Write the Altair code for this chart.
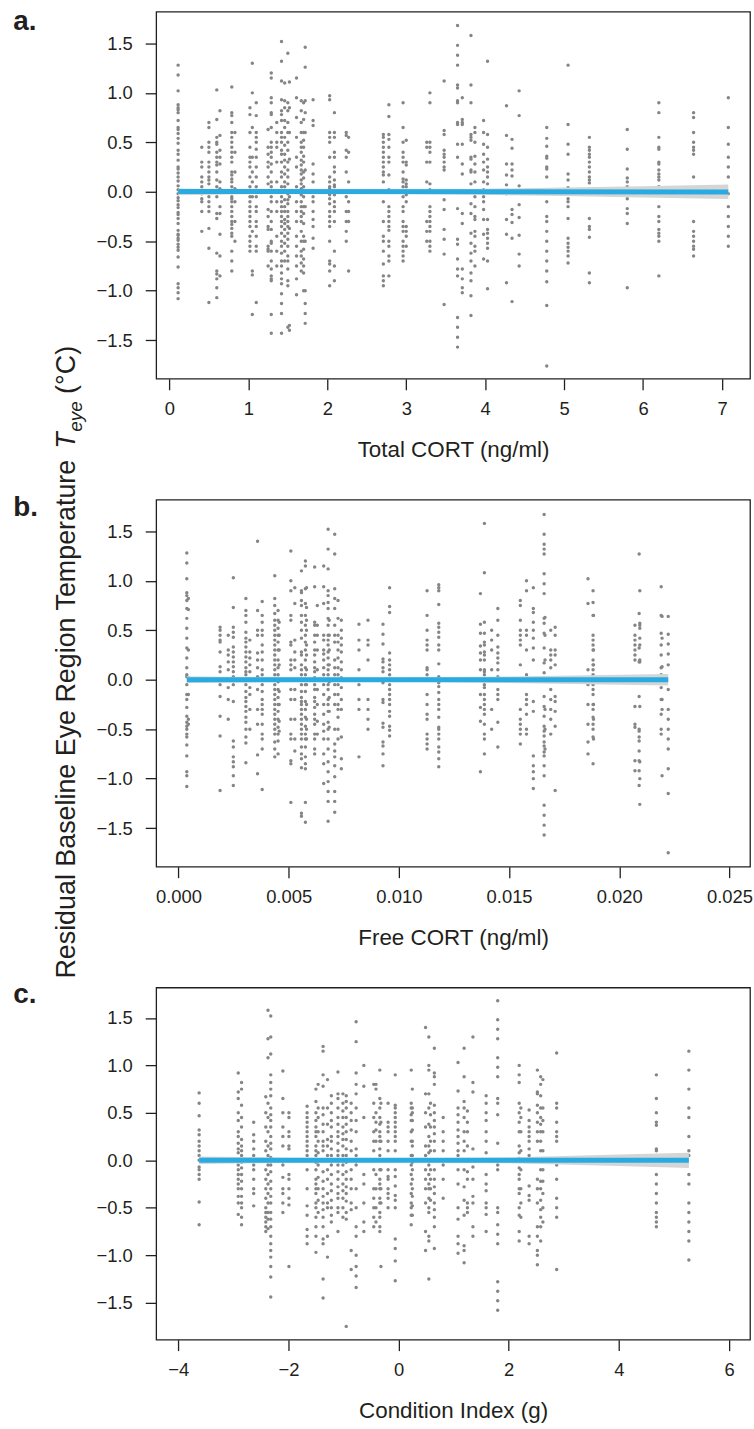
import altair as alt
import pandas as pd

# ---------------- Panel a: Total CORT ----------------
a_cols = [0.11, 0.41, 0.50, 0.60, 0.64, 0.79, 0.83, 1.02, 1.05, 1.10, 1.25, 1.29, 1.36, 1.42, 1.46,
          1.50, 1.52, 1.61, 1.67, 1.70, 1.72, 1.82, 2.03, 2.09, 2.24, 2.27,
          2.71, 2.78, 2.96, 3.00, 3.26, 3.30, 3.48, 3.65, 3.71, 3.82, 3.87, 3.98, 4.03,
          4.27, 4.34, 4.43, 4.78, 5.05, 5.32, 5.80, 6.20, 6.64, 7.08]
a_vals = [
    [1.28, 1.18, 1.02, 0.88, 0.85, 0.83, 0.80, 0.72, 0.65, 0.63, 0.59, 0.54, 0.49, 0.42, 0.38, 0.32, 0.25, 0.23,
     0.19, 0.15, 0.11, 0.06, 0.02, -0.02, -0.06, -0.09, -0.13, -0.16, -0.21, -0.23, -0.27, -0.32, -0.39, -0.43,
     -0.44, -0.47, -0.49, -0.53, -0.56, -0.59, -0.66, -0.76, -0.93, -0.97, -1.02, -1.08],
    [0.45, 0.30, 0.25, 0.15, 0.10, 0.05, -0.02, -0.07, -0.10, -0.20, -0.40],
    [0.70, 0.65, 0.50, 0.45, 0.40, 0.30, 0.25, 0.20, 0.15, 0.12, 0.08, 0.00, -0.05, -0.10, -0.15, -0.20, -0.37, -0.57, -1.12],
    [1.03, 0.73, 0.55, 0.50, 0.48, 0.40, 0.35, 0.30, 0.27, 0.20, 0.12, 0.05, 0.00, -0.05, -0.22, -0.27, -0.62, -0.80,
     -0.83, -0.88, -0.97, -1.07],
    [0.82, 0.57, 0.42, 0.35, 0.28, 0.10, 0.03, -0.15, -0.22, -0.43, -0.65, -0.85],
    [1.06, 0.80, 0.77, 0.70, 0.60, 0.55, 0.50, 0.45, 0.40, 0.35, 0.30, 0.20, 0.17, 0.13, 0.10, 0.05, -0.05, -0.07,
     -0.10, -0.15, -0.20, -0.25, -0.30, -0.33, -0.37, -0.42, -0.45, -0.60, -0.70, -0.80],
    [0.60, 0.40, 0.20, 0.03, -0.10, -0.30, -0.50],
    [0.85, 0.78, 0.60, 0.45, 0.35, 0.30, 0.25, 0.15, 0.05, 0.00, -0.05, -0.10, -0.15, -0.20, -0.25, -0.30, -0.35,
     -0.45, -0.50, -0.55, -0.60],
    [1.30, 1.00, 0.65, 0.35, 0.20, 0.10, -0.05, -0.40, -0.80, -0.84, -1.24],
    [0.90, 0.77, 0.60, 0.55, 0.50, 0.43, 0.35, 0.25, 0.15, 0.05, -0.05, -0.15, -0.20, -0.30, -0.35, -0.45, -0.55,
     -0.60, -1.12],
    [0.63, 0.45, 0.38, 0.30, 0.25, 0.15, 0.08, -0.18, -0.25, -0.35, -0.38, -0.55, -0.58, -0.60, -0.75],
    [1.20, 1.15, 0.95, 0.90, 0.80, 0.78, 0.65, 0.50, 0.45, 0.40, 0.35, 0.28, 0.20, 0.10, 0.05, -0.05, -0.10, -0.20,
     -0.30, -0.38, -0.50, -0.52, -0.60, -0.70, -0.78, -0.85, -0.88, -0.90, -1.24, -1.43],
    [0.70, 0.60, 0.50, 0.45, 0.30, 0.10, -0.10, -0.20, -0.45, -0.60, -0.75],
    [1.52, 1.32, 1.12, 0.93, 0.82, 0.78, 0.72, 0.60, 0.55, 0.50, 0.42, 0.38, 0.30, 0.20, 0.15, 0.05, 0.00, -0.05,
     -0.10, -0.15, -0.20, -0.25, -0.30, -0.35, -0.42, -0.50, -0.55, -0.62, -0.70, -0.75, -0.82, -0.88, -0.93,
     -1.03, -1.13, -1.23, -1.43],
    [1.10, 0.92, 0.85, 0.72, 0.65, 0.55, 0.47, 0.38, 0.32, 0.25, 0.18, 0.10, 0.05, -0.08, -0.15, -0.20, -0.28,
     -0.32, -0.38, -0.45, -0.52, -0.60, -0.70],
    [1.40, 0.90, 0.82, 0.70, 0.60, 0.50, 0.42, 0.30, 0.22, 0.15, 0.08, -0.02, -0.08, -0.12, -0.20, -0.25, -0.30,
     -0.35, -0.42, -0.48, -0.55, -0.65, -0.70, -0.78, -0.90, -0.95, -1.37],
    [1.11, 0.85, 0.60, 0.33, -0.05, -0.37, -1.35, -1.40],
    [1.15, 0.95, 0.75, 0.55, 0.35, 0.25, 0.05, -0.10, -0.20, -0.30, -0.45, -0.55, -0.65, -0.75, -0.88, -1.04],
    [0.92, 0.82, 0.70, 0.60, 0.50, 0.45, 0.40, 0.32, 0.27, 0.22, 0.18, 0.12, 0.08, 0.03, -0.03, -0.10, -0.15,
     -0.20, -0.25, -0.30, -0.40, -0.50, -0.60, -0.65, -0.72, -0.80],
    [0.90, 0.73, 0.60, 0.52, 0.45, 0.36, 0.30, 0.20, 0.14, 0.05, -0.05, -0.15, -0.22, -0.32, -0.45, -0.50, -0.58,
     -0.68, -0.75, -0.82, -1.00],
    [1.46, 1.26, 0.92, 0.80, 0.60, 0.22, -0.15, -0.50, -1.00, -1.13, -1.23, -1.33],
    [0.93, 0.72, 0.67, 0.28, 0.18, 0.10, 0.00, -0.05, -0.10, -0.20, -0.28, -0.35, -0.47, -0.57],
    [0.97, 0.93, 0.60, 0.55, 0.50, 0.35, 0.15, 0.10, 0.05, 0.03, -0.03, -0.07, -0.12, -0.20, -0.25, -0.30, -0.35,
     -0.50, -0.70, -0.73, -0.80, -0.95],
    [0.80, 0.60, 0.55, 0.40, 0.35, 0.25, 0.20, 0.12, 0.07, 0.05, 0.00, -0.03, -0.10, -0.15, -0.20, -0.30, -0.60,
     -0.75, -0.90],
    [0.60, 0.57, 0.42, 0.35, 0.20, -0.05, -0.20, -0.30, -0.40, -0.50],
    [0.55, 0.40, 0.10, -0.10, -0.20, -0.30, -0.80],
    [0.58, 0.55, 0.50, 0.45, 0.40, 0.35, 0.30, 0.25, 0.20, 0.17, 0.10, 0.00, -0.10, -0.30, -0.45, -0.50, -0.60,
     -0.73, -0.85, -0.90, -0.95],
    [0.88, 0.76, 0.58, 0.53, 0.45, 0.35, 0.30, 0.17, 0.02, -0.15, -0.20, -0.25, -0.30, -0.35, -0.39, -0.50, -0.55,
     -0.65, -0.70, -0.85],
    [0.90, 0.65, 0.50, 0.40, 0.35, 0.30, 0.20, 0.13, 0.10, 0.05, 0.00, -0.05, -0.15, -0.20, -0.30, -0.35, -0.40,
     -0.50, -0.55, -0.60, -0.65, -0.70],
    [0.52, 0.30, 0.27, 0.12, 0.08, 0.05, -0.03, -0.10, -0.35, -0.40, -0.45, -0.55],
    [0.50, 0.45, 0.30, 0.10, -0.30, -0.40, -0.50],
    [1.00, 0.90, 0.50, 0.45, 0.40, 0.30, 0.08, 0.02, -0.15, -0.20, -0.25, -0.30, -0.35, -0.40, -0.50, -0.55, -0.60],
    [1.12, 0.62, 0.58, 0.42, 0.38, 0.35, 0.30, 0.25, 0.22, 0.00, -0.08, -0.18, -0.38, -0.48, -0.63, -1.14],
    [1.68, 1.48, 1.38, 1.28, 1.08, 1.05, 0.92, 0.90, 0.70, 0.68, 0.48, 0.35, 0.00, -0.17, -0.48, -0.53, -0.68,
     -0.78, -0.85, -1.27, -1.37, -1.47, -1.57],
    [0.95, 0.73, 0.70, 0.68, 0.48, 0.28, 0.18, -0.22, -0.32, -0.78, -0.88, -0.97, -1.02],
    [1.58, 1.08, 0.90, 0.58, 0.55, 0.52, 0.35, 0.33, 0.22, 0.20, 0.08, -0.12, -0.22, -0.42, -0.52, -0.62, -0.70,
     -0.82, -0.90, -1.05, -1.25],
    [0.65, 0.60, 0.50, 0.36, 0.28, 0.20, 0.10, -0.05, -0.15, -0.25, -0.28, -0.40, -0.45, -0.55, -0.60, -0.75],
    [0.72, 0.60, 0.48, 0.38, 0.30, 0.22, 0.10, 0.02, -0.05, -0.10, -0.18, -0.28, -0.43, -0.68],
    [1.32, 0.58, 0.45, 0.33, 0.25, 0.20, 0.15, 0.08, -0.28, -0.38, -0.42, -0.47, -0.52, -0.57, -0.70, -0.98],
    [0.87, 0.57, 0.28, 0.17, 0.07, -0.02, -0.28, -0.43, -0.92],
    [0.53, 0.44, 0.28, 0.22, 0.16, -0.18, -0.23, -0.31, -0.47, -1.11],
    [1.02, 0.77, 0.06, -0.13, -0.26, -0.44, -0.63, -0.75],
    [0.65, 0.54, 0.46, 0.36, 0.34, 0.25, 0.23, 0.15, -0.10, -0.25, -0.30, -0.40, -0.50, -0.60, -0.70, -0.80,
     -0.91, -1.15, -1.76],
    [1.28, 0.68, 0.48, 0.38, 0.18, 0.12, 0.04, -0.07, -0.10, -0.15, -0.27, -0.47, -0.52, -0.56, -0.60, -0.65, -0.72],
    [0.55, 0.45, 0.42, 0.38, 0.35, 0.30, 0.25, 0.20, 0.15, 0.12, 0.09, -0.27, -0.35, -0.38, -0.46, -0.82, -0.92],
    [0.63, 0.43, 0.23, 0.14, 0.10, 0.05, -0.07, -0.17, -0.22, -0.32, -0.97],
    [0.90, 0.80, 0.55, 0.45, 0.43, 0.30, 0.28, 0.22, 0.18, 0.15, 0.12, 0.05, -0.15, -0.25, -0.30, -0.38, -0.42,
     -0.45, -0.50, -0.85],
    [0.80, 0.75, 0.60, 0.50, 0.45, 0.42, 0.38, 0.15, -0.30, -0.40, -0.45, -0.50, -0.55, -0.58, -0.65],
    [0.95, 0.65, 0.48, 0.35, 0.25, 0.15, -0.02, -0.15, -0.25, -0.35, -0.45, -0.55],
]
a_fit_x = [0.11, 7.08]
a_fit_y = [0.003, -0.003]
a_band_x = [0.11, 1.0, 2.0, 3.0, 4.0, 5.0, 6.0, 7.08]
a_band_half = [0.034, 0.024, 0.020, 0.022, 0.031, 0.043, 0.057, 0.073]

# ---------------- Panel b: Free CORT ----------------
b_cols = [0.00038, 0.00045, 0.00189, 0.00226, 0.00249, 0.00306, 0.00324, 0.00359, 0.00380, 0.00437, 0.00452,
          0.00457, 0.00510, 0.00528, 0.00558, 0.00576, 0.00581, 0.00618, 0.00630, 0.00659, 0.00679, 0.00684,
          0.00709, 0.00724, 0.00739, 0.00819, 0.00860, 0.00928, 0.00958, 0.01128, 0.01181, 0.01370, 0.01388,
          0.01421, 0.01449, 0.01551, 0.01579, 0.01610, 0.01659, 0.01663, 0.01689, 0.01709, 0.01858, 0.01881,
          0.01883, 0.02071, 0.02090, 0.02093, 0.02190, 0.02194, 0.02222]
b_vals = [
    [1.28, 1.18, 1.02, 0.88, 0.85, 0.80, 0.72, 0.62, 0.52, 0.42, 0.32, 0.22, 0.12, 0.05, 0.03, -0.05, -0.15,
     -0.20, -0.28, -0.37, -0.43, -0.47, -0.50, -0.55, -0.58, -0.66, -0.77, -0.93, -0.97, -1.08],
    [0.82, 0.71, 0.30, 0.02, -0.15, -0.40, -0.45],
    [0.53, 0.50, 0.45, 0.40, 0.38, 0.28, 0.13, 0.08, -0.05, -0.17, -0.37, -0.57, -1.12],
    [0.45, 0.30, 0.25, 0.18, 0.10, 0.00, -0.08, -0.20, -0.40],
    [1.03, 0.73, 0.53, 0.48, 0.43, 0.33, 0.28, 0.23, 0.18, 0.13, 0.08, 0.03, -0.05, -0.22, -0.62, -0.68, -0.78,
     -0.83, -0.88, -0.97, -1.07],
    [0.82, 0.70, 0.65, 0.58, 0.48, 0.42, 0.38, 0.33, 0.28, 0.23, 0.18, 0.12, 0.08, 0.05, 0.00, -0.05, -0.12,
     -0.18, -0.22, -0.27, -0.32, -0.38, -0.43, -0.50, -0.58, -0.64, -0.84],
    [0.40, 0.28, 0.22, 0.15, 0.08, 0.00, -0.08, -0.15, -0.30, -0.50],
    [1.40, 0.70, 0.50, 0.45, 0.27, 0.20, 0.12, 0.03, -0.10, -0.30, -0.45, -0.76, -0.95],
    [0.79, 0.65, 0.58, 0.50, 0.45, 0.35, 0.28, 0.20, 0.10, 0.05, -0.05, -0.12, -0.20, -0.25, -0.30, -0.35,
     -0.45, -0.55, -0.60, -0.70, -1.11],
    [1.05, 0.82, 0.75, 0.67, 0.60, 0.55, 0.50, 0.45, 0.40, 0.35, 0.30, 0.25, 0.20, 0.15, 0.10, 0.05, 0.00, -0.05,
     -0.10, -0.15, -0.20, -0.25, -0.30, -0.35, -0.40, -0.45, -0.50, -0.55, -0.63, -0.70, -0.78],
    [0.70, 0.60, 0.52, 0.45, 0.38, 0.30, 0.20, 0.12, 0.05, -0.02, -0.10, -0.18, -0.25, -0.32, -0.40, -0.48,
     -0.55, -0.62, -0.75],
    [0.58, 0.45, 0.30, 0.15, 0.00, -0.12, -0.25, -0.42, -0.52],
    [1.30, 1.00, 0.90, 0.65, 0.60, 0.38, 0.35, 0.20, 0.15, 0.10, -0.10, -0.20, -0.40, -0.55, -0.60, -0.82, -0.85, -1.24],
    [0.93, 0.77, 0.40, 0.28, 0.20, 0.12, -0.10, -0.20, -0.40, -0.60, -0.72],
    [1.10, 0.90, 0.88, 0.80, 0.75, 0.65, 0.58, 0.50, 0.42, 0.28, 0.25, 0.15, 0.10, 0.05, 0.00, -0.05, -0.12,
     -0.18, -0.22, -0.25, -0.30, -0.35, -0.40, -0.45, -0.50, -0.55, -0.60, -0.68, -0.75, -0.80, -0.89, -1.35, -1.38],
    [1.20, 1.15, 0.92, 0.77, 0.65, 0.55, 0.45, 0.38, 0.30, 0.20, 0.12, 0.05, -0.05, -0.12, -0.22, -0.30, -0.38,
     -0.47, -0.55, -0.60, -0.68, -0.78, -0.85, -0.90, -1.24, -1.44],
    [0.93, 0.73, 0.60, 0.50, 0.35, 0.25, 0.10, -0.05, -0.25, -0.40, -0.50, -0.60],
    [1.14, 0.94, 0.58, 0.55, 0.45, 0.38, 0.30, 0.25, 0.18, 0.12, 0.08, 0.02, -0.05, -0.10, -0.18, -0.22, -0.28,
     -0.35, -0.40, -0.45, -0.55, -0.60, -0.70, -0.75],
    [0.75, 0.55, 0.45, 0.30, 0.10, -0.10, -0.25, -0.42, -0.55],
    [1.15, 0.94, 0.77, 0.45, 0.40, 0.30, 0.26, 0.20, 0.12, 0.05, -0.05, -0.15, -0.25, -0.35, -0.45, -0.52,
     -0.60, -0.75, -0.85, -1.05],
    [1.52, 1.32, 1.12, 0.90, 0.85, 0.78, 0.72, 0.62, 0.55, 0.45, 0.40, 0.35, 0.28, 0.22, 0.15, 0.10, 0.05, 0.00,
     -0.05, -0.10, -0.20, -0.25, -0.32, -0.43, -0.50, -0.60, -0.70, -0.83, -0.93, -1.03, -1.13, -1.23, -1.43],
    [0.60, 0.45, 0.30, 0.15, -0.02, -0.18, -0.32, -0.48],
    [1.47, 1.27, 0.92, 0.82, 0.72, 0.55, 0.45, 0.38, 0.20, 0.12, 0.05, -0.05, -0.15, -0.25, -0.50, -0.65, -0.72,
     -0.78, -0.87, -0.98, -1.13, -1.23, -1.34],
    [0.80, 0.62, 0.45, 0.38, 0.30, 0.22, 0.12, 0.05, -0.05, -0.15, -0.25, -0.30, -0.38, -0.50, -0.60],
    [0.60, 0.50, 0.42, 0.35, 0.28, 0.18, 0.10, 0.02, -0.08, -0.20, -0.30, -0.58, -0.80, -0.90],
    [0.56, 0.40, 0.30, 0.10, -0.05, -0.20, -0.30, -0.78],
    [0.60, 0.40, 0.35, 0.20, -0.20, -0.30, -0.40, -0.50],
    [0.56, 0.46, 0.36, 0.21, 0.18, 0.12, 0.08, -0.03, -0.20, -0.23, -0.44, -0.48, -0.63, -0.67, -0.75, -0.87],
    [0.93, 0.74, 0.68, 0.27, 0.20, 0.15, 0.10, 0.05, 0.00, -0.05, -0.10, -0.15, -0.20, -0.25, -0.32, -0.37,
     -0.47, -0.51, -0.57],
    [0.90, 0.65, 0.50, 0.40, 0.35, 0.30, 0.12, 0.10, 0.05, -0.15, -0.25, -0.35, -0.40, -0.55, -0.60, -0.65, -0.70],
    [0.96, 0.93, 0.90, 0.76, 0.57, 0.53, 0.48, 0.43, 0.35, 0.30, 0.16, 0.03, -0.03, -0.07, -0.13, -0.20, -0.25,
     -0.30, -0.38, -0.48, -0.50, -0.55, -0.60, -0.68, -0.73, -0.80, -0.88],
    [0.87, 0.56, 0.47, 0.34, 0.27, 0.20, 0.10, -0.15, -0.28, -0.42, -0.93],
    [1.58, 1.08, 0.58, 0.47, 0.38, 0.35, 0.28, 0.25, 0.20, 0.10, 0.08, 0.05, -0.05, -0.08, -0.15, -0.20, -0.25,
     -0.30, -0.35, -0.45, -0.55, -0.60, -0.75],
    [0.50, 0.40, 0.30, 0.10, -0.30, -0.50],
    [0.72, 0.60, 0.45, 0.33, 0.27, 0.22, 0.17, 0.10, 0.03, -0.10, -0.15, -0.20, -0.43, -0.68],
    [0.80, 0.75, 0.60, 0.50, 0.45, 0.40, 0.35, 0.15, -0.30, -0.40, -0.45, -0.50, -0.55, -0.65],
    [1.00, 0.90, 0.50, 0.45, 0.30, 0.05, -0.15, -0.20, -0.25, -0.35, -0.50, -0.55],
    [0.93, 0.72, 0.68, 0.58, 0.50, 0.42, 0.32, 0.20, -0.22, -0.32, -0.77, -0.87, -0.93, -1.00, -1.10],
    [1.67, 1.47, 1.37, 1.32, 1.27, 1.07, 0.97, 0.87, 0.62, 0.57, 0.47, 0.32, 0.17, 0.07, 0.02, -0.17, -0.27,
     -0.37, -0.47, -0.52, -0.57, -0.63, -0.67, -0.73, -0.77, -0.87, -0.97, -1.27, -1.37, -1.47, -1.57],
    [0.63, 0.45, 0.20, 0.00, -0.30, -0.50, -0.70],
    [0.50, 0.30, 0.25, 0.20, 0.12, -0.10, -0.20, -0.30, -0.40, -0.55],
    [0.53, 0.45, 0.30, 0.25, 0.15, -0.17, -0.22, -0.32, -0.47, -1.12],
    [1.02, 0.77, 0.10, -0.05, -0.25, -0.45, -0.63, -0.75],
    [0.90, 0.78, 0.65, 0.45, 0.40, 0.35, 0.30, 0.20, 0.15, 0.10, 0.05, -0.05, -0.10, -0.15, -0.25, -0.30, -0.38,
     -0.45, -0.50, -0.58, -0.85],
    [0.65, 0.30, 0.15, -0.25, -0.40, -0.60],
    [0.55, 0.45, 0.40, 0.35, 0.30, 0.25, 0.20, -0.27, -0.45, -0.48, -0.82, -0.92],
    [1.27, 0.67, 0.32, 0.18, -0.17, -0.50, -0.52, -0.58, -0.62, -0.72, -0.82, -0.92, -1.07],
    [0.90, 0.57, 0.55, 0.52, 0.42, 0.35, 0.20, 0.18, -0.27, -0.83, -1.00, -1.26],
    [0.94, 0.65, 0.47, 0.35, 0.25, 0.12, 0.05, -0.08, -0.20, -0.35, -0.50, -0.55],
    [0.64, 0.42, 0.13, -0.20, -0.30, -0.97],
    [0.64, 0.46, 0.36, 0.26, 0.15, -0.10, -0.30, -0.40, -0.50, -0.60, -0.70, -0.90, -1.15, -1.75],
]
b_fit_x = [0.00038, 0.02222]
b_fit_y = [0.0, 0.0]
b_band_x = [0.00038, 0.005, 0.010, 0.015, 0.020, 0.02222]
b_band_half = [0.034, 0.021, 0.021, 0.033, 0.050, 0.058]

# ---------------- Panel c: Condition Index ----------------
c_cols = [-3.62, -2.91, -2.85, -2.63, -2.41, -2.37, -2.32, -2.10, -1.99, -1.66, -1.50, -1.46, -1.37, -1.29,
          -1.22, -1.10, -1.01, -0.95, -0.86, -0.77, -0.63, -0.45, -0.41, -0.34, -0.32, -0.19, -0.06, 0.23, 0.25,
          0.49, 0.55, 0.58, 0.65, 0.81, 1.08, 1.19, 1.25, 1.35, 1.59, 1.80, 2.19, 2.22, 2.37, 2.52, 2.58,
          2.62, 2.87, 4.68, 5.27]
c_vals = [
    [0.71, 0.60, 0.47, 0.32, 0.27, 0.20, 0.15, 0.10, 0.05, 0.00, -0.07, -0.10, -0.15, -0.20, -0.44, -0.68],
    [0.92, 0.72, 0.65, 0.50, 0.42, 0.30, 0.25, 0.18, 0.12, 0.08, 0.00, -0.05, -0.10, -0.15, -0.20, -0.25,
     -0.30, -0.38, -0.45, -0.57],
    [0.82, 0.75, 0.58, 0.45, 0.35, 0.22, 0.15, 0.10, 0.05, -0.02, -0.08, -0.15, -0.22, -0.30, -0.38, -0.45,
     -0.50, -0.60, -0.68],
    [0.40, 0.27, 0.20, 0.12, 0.05, -0.05, -0.10, -0.20, -0.30, -0.35, -0.48],
    [0.67, 0.50, 0.35, 0.20, 0.10, 0.00, -0.10, -0.20, -0.30, -0.40, -0.50, -0.55, -0.60, -0.65, -0.70, -0.75],
    [1.58, 1.28, 1.08, 0.60, 0.45, 0.30, 0.15, 0.05, -0.05, -0.15, -0.25, -0.35, -0.45, -0.55, -0.62, -0.72],
    [1.52, 1.30, 1.12, 0.90, 0.82, 0.75, 0.68, 0.55, 0.48, 0.42, 0.35, 0.25, 0.18, 0.12, 0.03, -0.05, -0.12,
     -0.22, -0.30, -0.38, -0.45, -0.55, -0.62, -0.70, -0.80, -0.88, -0.95, -1.02, -1.12, -1.23, -1.44],
    [0.94, 0.65, 0.50, 0.35, 0.25, 0.15, -0.05, -0.18, -0.30, -0.35, -0.45, -0.55],
    [0.50, 0.45, 0.30, 0.25, 0.15, 0.12, -0.15, -0.20, -0.30, -0.40, -0.47, -1.12],
    [0.57, 0.50, 0.45, 0.40, 0.35, 0.30, 0.25, 0.20, 0.15, 0.10, 0.05, -0.10, -0.30, -0.48, -0.58, -0.73, -0.80, -0.88],
    [0.75, 0.62, 0.50, 0.42, 0.35, 0.30, 0.25, 0.15, 0.10, 0.05, -0.02, -0.10, -0.20, -0.25, -0.30, -0.35,
     -0.45, -0.50, -0.60, -0.70, -0.80, -0.97],
    [0.80, 0.55, 0.45, 0.30, 0.20, 0.08, -0.05, -0.18, -0.30, -0.42, -0.55],
    [1.20, 1.15, 0.90, 0.78, 0.55, 0.48, 0.38, 0.30, 0.20, 0.15, 0.10, 0.00, -0.12, -0.22, -0.30, -0.38, -0.45,
     -0.52, -0.60, -0.70, -0.83, -0.88, -1.25, -1.45],
    [0.85, 0.55, 0.38, 0.22, 0.15, 0.05, -0.10, -0.20, -0.35, -0.45, -0.50, -0.80, -1.02],
    [0.68, 0.60, 0.50, 0.42, 0.35, 0.25, 0.20, 0.12, 0.05, -0.05, -0.15, -0.25, -0.32, -0.42, -0.50, -0.58, -0.65],
    [0.93, 0.70, 0.65, 0.55, 0.45, 0.38, 0.30, 0.25, 0.18, 0.10, 0.05, -0.05, -0.12, -0.20, -0.28, -0.35,
     -0.40, -0.50, -0.55, -0.75],
    [0.70, 0.60, 0.52, 0.45, 0.35, 0.28, 0.22, 0.15, 0.05, -0.05, -0.15, -0.25, -0.32, -0.40, -0.50, -0.60],
    [0.68, 0.62, 0.55, 0.45, 0.38, 0.30, 0.22, 0.12, 0.05, -0.02, -0.12, -0.20, -0.28, -0.35, -0.43, -0.55,
     -0.62, -1.75],
    [0.60, 0.50, 0.42, 0.32, 0.20, 0.10, 0.00, -0.10, -0.20, -0.30, -0.45, -0.52, -0.95, -1.15],
    [1.46, 1.25, 0.92, 0.80, 0.70, 0.55, 0.42, 0.30, 0.12, 0.05, -0.05, -0.30, -0.50, -0.70, -0.80, -1.00,
     -1.12, -1.22, -1.34],
    [1.00, 0.78, 0.45, -0.15, -0.25, -0.45, -0.65, -0.75],
    [0.80, 0.60, 0.45, 0.30, 0.20, 0.10, 0.00, -0.10, -0.30, -0.40, -0.50, -0.60, -0.70],
    [0.80, 0.75, 0.50, 0.40, 0.32, 0.20, -0.15, -0.30, -0.50, -0.65],
    [0.95, 0.65, 0.55, 0.45, 0.38, 0.30, 0.25, 0.20, 0.12, 0.05, 0.00, -0.10, -0.20, -0.25, -0.30, -0.40,
     -0.45, -0.55, -0.60, -0.70, -0.75],
    [0.60, 0.40, 0.20, -0.10, -0.30, -0.45, -1.12],
    [0.60, 0.40, 0.35, 0.30, 0.20, 0.10, 0.00, -0.10, -0.17, -0.20, -0.30, -0.35, -0.40, -0.50],
    [0.90, 0.58, 0.55, 0.50, 0.45, 0.40, 0.35, 0.30, 0.25, 0.20, 0.10, 0.00, -0.10, -0.17, -0.27, -0.37,
     -0.42, -0.50, -0.83, -0.93, -1.06, -1.27],
    [0.95, 0.60, 0.55, 0.48, 0.42, 0.30, 0.20, 0.05, -0.05, -0.15, -0.25, -0.35, -0.45, -0.50, -0.58, -0.68],
    [0.75, 0.55, 0.50, 0.42, 0.32, 0.20, 0.15, 0.05, -0.02, -0.10, -0.20, -0.30, -0.38, -0.48, -0.58],
    [1.40, 0.70, 0.50, 0.35, 0.15, 0.05, -0.10, -0.20, -0.30, -0.45, -0.75, -0.95],
    [1.30, 1.00, 0.95, 0.70, 0.55, 0.38, 0.25, 0.15, 0.08, -0.05, -0.15, -0.25, -0.30, -0.40, -0.50, -0.55,
     -0.80, -0.85, -1.25],
    [0.60, 0.48, 0.35, 0.20, 0.10, 0.00, -0.10, -0.20, -0.30, -0.42],
    [1.18, 0.92, 0.88, 0.80, 0.58, 0.50, 0.42, 0.35, 0.28, 0.20, 0.10, 0.00, -0.10, -0.20, -0.28, -0.35,
     -0.45, -0.52, -0.60, -0.70, -0.93],
    [0.45, 0.30, 0.20, 0.10, -0.05, -0.20, -0.40],
    [1.03, 0.73, 0.55, 0.48, 0.40, 0.32, 0.25, 0.18, 0.10, 0.05, -0.10, -0.25, -0.50, -0.62, -0.80, -0.88, -0.98],
    [1.18, 0.88, 0.62, 0.55, 0.45, 0.30, 0.20, 0.10, 0.00, -0.10, -0.28, -0.42, -0.58, -0.90, -0.95, -1.08],
    [0.52, 0.40, 0.30, 0.15, -0.12, -0.20, -0.45, -0.50, -0.55],
    [1.30, 0.82, 0.72, 0.12, -0.07, -0.20, -0.38, -0.45, -0.70, -0.80],
    [0.68, 0.60, 0.50, 0.42, 0.30, 0.20, 0.08, -0.15, -0.25, -0.32, -0.45, -0.50, -0.57, -0.75],
    [1.68, 1.48, 1.38, 1.28, 1.08, 0.98, 0.88, 0.65, 0.60, 0.48, 0.18, -0.05, -0.10, -0.50, -0.55, -0.68,
     -0.78, -0.88, -1.28, -1.38, -1.48, -1.58],
    [1.00, 0.90, 0.82, 0.60, 0.50, 0.40, 0.30, 0.15, 0.08, 0.02, -0.08, -0.15, -0.20, -0.30, -0.35, -0.50,
     -0.58, -0.75, -0.85],
    [0.55, 0.45, 0.30, 0.10, -0.10, -0.30, -0.45, -0.60],
    [0.53, 0.42, 0.35, 0.30, 0.25, 0.20, 0.12, 0.05, -0.27, -0.37, -0.42, -0.80, -0.88],
    [0.95, 0.72, 0.70, 0.58, 0.50, 0.40, 0.30, 0.20, -0.20, -0.30, -0.45, -0.70, -0.80, -0.95, -1.00, -1.10],
    [0.88, 0.80, 0.68, 0.55, 0.45, 0.38, 0.30, 0.20, 0.10, 0.00, -0.10, -0.22, -0.30, -0.42, -0.52, -0.60,
     -0.70, -0.85],
    [0.85, 0.55, 0.42, 0.30, 0.10, -0.10, -0.22, -0.35, -0.50, -0.65],
    [1.13, 0.60, 0.55, 0.40, 0.30, 0.25, 0.20, -0.05, -0.20, -0.40, -0.50, -0.60, -1.15],
    [0.90, 0.65, 0.50, 0.40, 0.37, 0.12, 0.10, -0.15, -0.25, -0.35, -0.45, -0.55, -0.60, -0.65, -0.70],
    [1.15, 0.95, 0.75, 0.55, 0.45, 0.25, 0.10, 0.05, -0.15, -0.25, -0.45, -0.55, -0.65, -0.75, -0.85, -1.05],
]
c_fit_x = [-3.62, 5.27]
c_fit_y = [0.0, 0.0]
c_band_x = [-3.62, -2.0, 0.0, 2.0, 4.0, 5.27]
c_band_half = [0.040, 0.026, 0.021, 0.030, 0.060, 0.080]

# tick labels / titles
y_ticks = [-1.5, -1.0, -0.5, 0.0, 0.5, 1.0, 1.5]
a_ticks = [0, 1, 2, 3, 4, 5, 6, 7]
b_ticks = [0.0, 0.005, 0.010, 0.015, 0.020, 0.025]
c_ticks = [-4, -2, 0, 2, 4, 6]

FONT = "Liberation Sans"
INK = "#231f20"
PT = "#858585"
BLUE = "#29abe2"
BAND = "#d5d5d5"
W = 597


def points_df(cols, vals):
    return pd.DataFrame([(x, y) for x, col in zip(cols, vals) for y in col], columns=["x", "y"])


def panel(cols, vals, fx, fy, bx, bh, xdom, ticks, fmt, xtitle, label, label_y, height, extra=None):
    xs = alt.Scale(domain=xdom, nice=False, zero=False)
    ys = alt.Scale(domain=[-1.89, 1.82], nice=False, zero=False)
    xa = alt.Axis(values=ticks, format=fmt, title=xtitle)
    ya = alt.Axis(values=y_ticks, format=".1f", title=None)
    pts = alt.Chart(points_df(cols, vals)).mark_circle(size=12, color=PT, opacity=1).encode(
        x=alt.X("x:Q", scale=xs, axis=xa), y=alt.Y("y:Q", scale=ys, axis=ya))
    bdf = pd.DataFrame({"x": bx, "lo": [-h for h in bh], "hi": bh})
    band = alt.Chart(bdf).mark_area(color=BAND, opacity=1).encode(
        x=alt.X("x:Q", scale=xs), y=alt.Y("lo:Q", scale=ys), y2="hi:Q")
    line = alt.Chart(pd.DataFrame({"x": fx, "y": fy})).mark_line(
        color=BLUE, strokeWidth=5, strokeCap="butt").encode(
        x=alt.X("x:Q", scale=xs), y=alt.Y("y:Q", scale=ys))
    lab = alt.Chart(pd.DataFrame({"t": [label]})).mark_text(
        font=FONT, fontSize=28, fontWeight="bold", color=INK, align="left", baseline="alphabetic").encode(
        x=alt.value(-143.7), y=alt.value(label_y), text="t:N")
    layers = [pts, band, line, lab]
    if extra:
        layers += extra
    return alt.layer(*layers).properties(width=W, height=height)


# composite y-axis title, placed in panel b
def ytxt(s, x, y, size, italic):
    return alt.Chart(pd.DataFrame({"t": [s]})).mark_text(
        font=FONT, fontSize=size, fontStyle="italic" if italic else "normal", color=INK,
        align="left", baseline="alphabetic", angle=270).encode(
        x=alt.value(x), y=alt.value(y), text="t:N")

ytitle = [
    ytxt("Residual Baseline Eye Region Temperature", -81.7, 481.5, 27, False),
    ytxt("T", -81.7, -51.2, 27, True),
    ytxt("eye", -74.7, -68.2, 19, True),
    ytxt("(°C)", -81.7, -106.3, 27, False),
]

pa = panel(a_cols, a_vals, a_fit_x, a_fit_y, a_band_x, a_band_half, [-0.168, 7.355], a_ticks, "d",
           "Total CORT (ng/ml)", "a.", 18, 369)
pb = panel(b_cols, b_vals, b_fit_x, b_fit_y, b_band_x, b_band_half, [-0.00101, 0.02593], b_ticks, ".3f",
           "Free CORT (ng/ml)", "b.", 16, 369, ytitle)
pc = panel(c_cols, c_vals, c_fit_x, c_fit_y, c_band_x, c_band_half, [-4.40, 6.38], c_ticks, "d",
           "Condition Index (g)", "c.", 16, 354)

chart = alt.vconcat(pa, pb, pc, spacing=121.5, bounds="flush").properties(
    padding={"left": 12, "top": 3, "right": 0, "bottom": 0}
).configure_view(
    stroke=INK, strokeWidth=1.3
).configure_axis(
    domain=False, grid=False, ticks=True, tickColor=INK, tickWidth=1.3, tickSize=11,
    labelFont=FONT, labelFontSize=18.5, labelColor=INK,
    titleFont=FONT, titleFontSize=22.5, titleFontWeight="normal", titleColor=INK,
).configure_axisX(
    labelPadding=10, titlePadding=21
).configure_axisY(
    labelPadding=13
)

chart.save("out.html", embed_options={"renderer": "svg", "actions": False})
